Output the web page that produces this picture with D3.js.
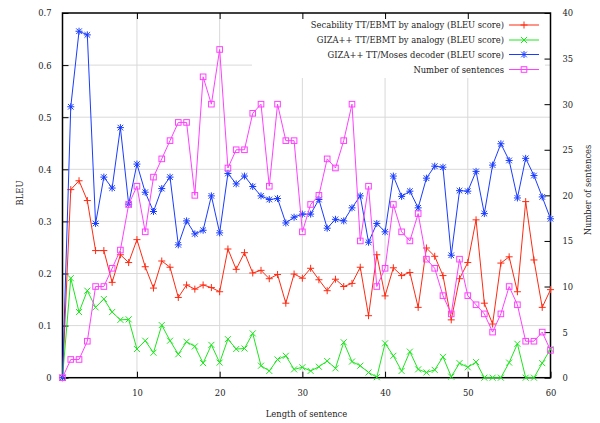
<!DOCTYPE html>
<html><head><meta charset="utf-8">
<script src="https://cdn.jsdelivr.net/npm/d3@7"></script>
<style>
body{margin:0;background:#fff}
</style>
</head><body>
<svg id="chart" width="600" height="423"></svg>
<script>
const lengths = [1,2,3,4,5,6,7,8,9,10,11,12,13,14,15,16,17,18,19,20,21,22,23,24,25,26,27,28,29,30,
  31,32,33,34,35,36,37,38,39,40,41,42,43,44,45,46,47,48,49,50,51,52,53,54,55,56,57,58,59,60];
const secability = [0,0.361,0.378,0.340,0.244,0.244,0.183,0.236,0.221,0.265,0.213,0.172,0.224,0.212,0.154,0.178,0.170,0.178,0.173,0.165,
  0.247,0.208,0.240,0.201,0.206,0.190,0.198,0.143,0.199,0.191,0.210,0.188,0.167,0.189,0.175,0.181,0.212,0.119,0.236,0.157,
  0.211,0.196,0.202,0.135,0.249,0.233,0.196,0.111,0.190,0.221,0.303,0.143,0.103,0.220,0.232,0.165,0.338,0.226,0.135,0.169];
const gizaEbmt = [0,0.191,0.126,0.167,0.135,0.151,0.126,0.111,0.112,0.055,0.071,0.048,0.101,0.071,0.045,0.069,0.060,0.028,0.063,0.029,
  0.074,0.055,0.056,0.085,0.023,0.013,0.035,0.042,0.016,0.020,0.013,0.021,0.032,0.018,0.068,0.031,0.023,0.010,0.001,0.066,
  0.042,0.013,0.050,0.016,0.010,0.015,0.040,0.002,0.028,0.020,0.030,0,0,0,0.029,0.065,0,0,0.028,0.055];
const gizaMoses = [0,0.520,0.665,0.658,0.296,0.385,0.364,0.480,0.333,0.410,0.356,0.319,0.363,0.385,0.255,0.301,0.276,0.283,0.349,0.278,
  0.392,0.372,0.387,0.367,0.349,0.342,0.344,0.297,0.308,0.314,0.314,0.342,0.287,0.304,0.301,0.326,0.349,0.260,0.296,0.280,
  0.387,0.348,0.358,0.326,0.383,0.406,0.404,0.235,0.359,0.358,0.396,0.315,0.408,0.449,0.417,0.345,0.421,0.388,0.347,0.305];
const sentences = [0,2,2,4,10,10,12,14,19,21,16,22,24,26,28,28,20,33,30,36,
  23,25,25,29,30,21,30,26,26,16,19,20,24,23,26,30,15,21,10,12,
  19,16,15,18,13,12,9,7,13,9,8,7,5,7,10,8,4,4,5,3];
const xTicks = [10,20,30,40,50,60];
const yTicks = [0,0.1,0.2,0.3,0.4,0.5,0.6,0.7];
const y2Ticks = [0,5,10,15,20,25,30,35,40];
const legendLabels = ["Secability TT/EBMT by analogy (BLEU score)","GIZA++ TT/EBMT by analogy (BLEU score)",
  "GIZA++ TT/Moses decoder (BLEU score)","Number of sentences"];

const FONT = "'DejaVu Serif Condensed', 'DejaVu Serif', serif";
const FS = 9.3;
const L=62.5, R=550.5, T=13, B=377.7;
const svg = d3.select("#chart");
const x = d3.scaleLinear().domain([1,60]).range([L,R]);
const y = d3.scaleLinear().domain([0,0.7]).range([B,T]);
const y2 = d3.scaleLinear().domain([0,40]).range([B,T]);

// grid
const grid = svg.append("g").attr("stroke","#d9d9d9").attr("stroke-width",1);
xTicks.filter(t=>t<60).forEach(t=>grid.append("line").attr("x1",x(t)).attr("x2",x(t)).attr("y1",B).attr("y2",T));
yTicks.filter(t=>t>0&&t<0.7).forEach(t=>grid.append("line").attr("x1",L).attr("x2",R).attr("y1",y(t)).attr("y2",y(t)));
// key background
svg.append("rect").attr("x",252).attr("y",T+1).attr("width",293).attr("height",64).attr("fill","#fff");

// axes via d3
const fmt = d => d===0?"0":d3.format(".1f")(d);
const ax = svg.append("g").attr("transform",`translate(0,${B})`)
  .call(d3.axisBottom(x).tickValues(xTicks).tickSizeInner(-6).tickSizeOuter(0).tickPadding(12));
const axTop = svg.append("g").attr("transform",`translate(0,${T})`)
  .call(d3.axisTop(x).tickValues(xTicks.filter(t=>t<60)).tickSizeInner(-6).tickSizeOuter(0).tickFormat(""));
const ay = svg.append("g").attr("transform",`translate(${L},0)`)
  .call(d3.axisLeft(y).tickValues(yTicks).tickFormat(fmt).tickSizeInner(-6).tickSizeOuter(0).tickPadding(11));
const ay2 = svg.append("g").attr("transform",`translate(${R},0)`)
  .call(d3.axisRight(y2).tickValues(y2Ticks).tickSizeInner(-6).tickSizeOuter(0).tickPadding(12));
[ax,axTop,ay,ay2].forEach(g=>{
  g.attr("font-family",FONT).attr("font-size",FS);
  g.select(".domain").remove();
  g.selectAll(".tick line").attr("stroke","#000").attr("stroke-width",1);
  g.selectAll(".tick text").style("font-family",FONT).style("font-size",FS+"px").attr("fill","#222");
});
ax.selectAll(".tick text").attr("dy","0.71em");
// border
svg.append("rect").attr("x",L).attr("y",T).attr("width",R-L).attr("height",B-T)
  .attr("fill","none").attr("stroke","#000").attr("stroke-width",1.5);

// axis titles
function txt(){ return svg.append("text").style("font-family",FONT).style("font-size",FS+"px").attr("fill","#222"); }
txt().attr("x",306.5).attr("y",416.5).attr("text-anchor","middle").text("Length of sentence");
txt().attr("transform","translate(23,193) rotate(-90)").attr("text-anchor","middle").text("BLEU");
txt().attr("transform","translate(591,190) rotate(-90)").attr("text-anchor","middle").text("Number of sentences");

// markers
function marker(g, type, cx, cy, color){
  const s=3.5;
  if(type==="plus"){
    g.append("path").attr("d",`M${cx-s},${cy}H${cx+s}M${cx},${cy-s}V${cy+s}`).attr("stroke",color).attr("stroke-width",1).attr("fill","none");
  } else if(type==="cross"){
    const c=3;
    g.append("path").attr("d",`M${cx-c},${cy-c}L${cx+c},${cy+c}M${cx-c},${cy+c}L${cx+c},${cy-c}`).attr("stroke",color).attr("stroke-width",1).attr("fill","none");
  } else if(type==="star"){
    const c=2.8;
    g.append("path").attr("d",`M${cx-s},${cy}H${cx+s}M${cx},${cy-s}V${cy+s}M${cx-c},${cy-c}L${cx+c},${cy+c}M${cx-c},${cy+c}L${cx+c},${cy-c}`).attr("stroke",color).attr("stroke-width",1).attr("fill","none");
  } else if(type==="square"){
    g.append("rect").attr("x",cx-2.8).attr("y",cy-2.8).attr("width",5.6).attr("height",5.6).attr("stroke",color).attr("stroke-width",1).attr("fill","none");
  }
}
const series = [
  {vals:secability, scale:y, color:"#ff2a12", type:"plus"},
  {vals:gizaEbmt, scale:y, color:"#1ee61e", type:"cross"},
  {vals:gizaMoses, scale:y, color:"#1a3cff", type:"star"},
  {vals:sentences, scale:y2, color:"#ff40ff", type:"square"}
];
const dataG = svg.append("g");
series.forEach(s=>{
  const line = d3.line().x((d,i)=>x(lengths[i])).y(d=>s.scale(d));
  dataG.append("path").datum(s.vals).attr("d",line).attr("fill","none").attr("stroke",s.color).attr("stroke-width",1);
  const mg = dataG.append("g");
  s.vals.forEach((v,i)=>marker(mg,s.type,x(lengths[i]),s.scale(v),s.color));
});

// legend
const legYs=[25,40,54.5,69.5];
legendLabels.forEach((lab,i)=>{
  const yy=legYs[i];
  txt().attr("x",504).attr("y",yy).attr("dy","0.35em").attr("text-anchor","end").text(lab);
  svg.append("line").attr("x1",509).attr("x2",539).attr("y1",yy).attr("y2",yy).attr("stroke",series[i].color).attr("stroke-width",1);
  marker(svg,series[i].type,524,yy,series[i].color);
});
</script>
</body></html>
